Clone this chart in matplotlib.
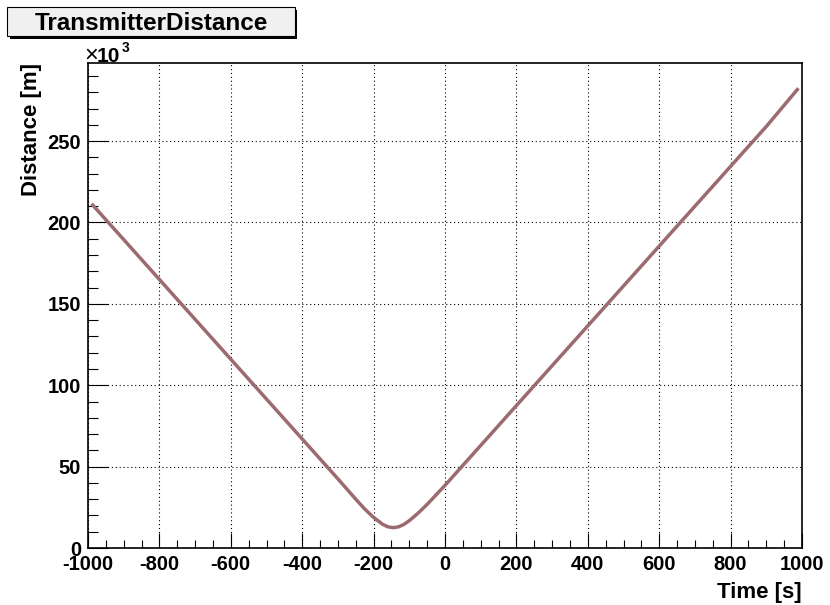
import matplotlib
matplotlib.use("Agg")
import matplotlib.pyplot as plt
from matplotlib.patches import Rectangle
from matplotlib.ticker import MultipleLocator

plt.rcParams['font.family'] = ['Liberation Sans', 'DejaVu Sans']
plt.rcParams['font.weight'] = 'bold'
plt.rcParams['axes.unicode_minus'] = False

# transmitter distance vs. time (distance in units of 10^3 m)
time_s = [-990, -900, -800, -700, -600, -500, -400, -300, -250, -225, -200,
          -175, -160, -145, -130, -115, -100, -75, -50, 0, 100, 200, 300, 400,
          500, 600, 700, 800, 900, 990]
distance_km = [211.5, 189.5, 165.0, 140.5, 116.0, 91.5, 67.0, 42.5, 30.0,
               24.0, 18.8, 14.6, 13.0, 12.5, 13.0, 14.5, 16.8, 21.5, 26.8,
               38.5, 63.0, 87.5, 112.0, 136.5, 161.0, 185.5, 210.0, 234.5,
               259.0, 282.5]

W, H = 830, 605
fig = plt.figure(figsize=(W / 100, H / 100), dpi=100)
fig.patch.set_facecolor('white')


def fx(px):
    return px / W


def fy(py):
    return 1 - py / H


ax = fig.add_axes([fx(88), fy(548), fx(802) - fx(88), fy(63) - fy(548)])
ax.plot(time_s, distance_km, color='#9c6b6f', lw=2.5, solid_capstyle='butt')

ax.set_xlim(-1000, 1000)
ax.set_ylim(0, 298)
ax.xaxis.set_major_locator(MultipleLocator(200))
ax.xaxis.set_minor_locator(MultipleLocator(50))
ax.yaxis.set_major_locator(MultipleLocator(50))
ax.yaxis.set_minor_locator(MultipleLocator(10))

ax.grid(True, which='major', color='black', lw=0.8, linestyle=(0, (1, 2.5)))
ax.tick_params(axis='x', which='major', direction='in', length=11, width=0.8,
               labelsize=14.5, pad=5)
ax.tick_params(axis='x', which='minor', direction='in', length=5.5, width=0.8)
ax.tick_params(axis='y', which='major', direction='in', length=14.5, width=0.8,
               labelsize=14.5, pad=5)
ax.tick_params(axis='y', which='minor', direction='in', length=7.2, width=0.8)
for lab in ax.get_xticklabels() + ax.get_yticklabels():
    lab.set_fontweight('bold')
for sp in ax.spines.values():
    sp.set_linewidth(1.2)

ax.set_xlabel('Time [s]', fontsize=16, fontweight='bold', loc='right', labelpad=6)
ax.set_ylabel('Distance [m]', fontsize=16, fontweight='bold', loc='top', labelpad=4)

# exponent label above the y axis
fig.text(fx(84), fy(62), '×', fontsize=17, fontweight='normal', va='baseline')
fig.text(fx(97), fy(62), '10', fontsize=15, fontweight='bold', va='baseline')
fig.text(fx(122), fy(52), '3', fontsize=10, fontweight='bold', va='baseline')

# title box with shadow
fig.patches.append(Rectangle((fx(10), fy(39)), fx(297) - fx(10), fy(10) - fy(39),
                             transform=fig.transFigure, facecolor='black',
                             edgecolor='none', zorder=1))
fig.patches.append(Rectangle((fx(7), fy(36)), fx(295) - fx(7), fy(7) - fy(36),
                             transform=fig.transFigure, facecolor='#f0f0f0',
                             edgecolor='black', lw=0.8, zorder=2))
fig.text(fx(151), fy(23), 'TransmitterDistance', fontsize=17.5, fontweight='bold',
         ha='center', va='center', zorder=3)

fig.savefig('out.png', dpi=100)
